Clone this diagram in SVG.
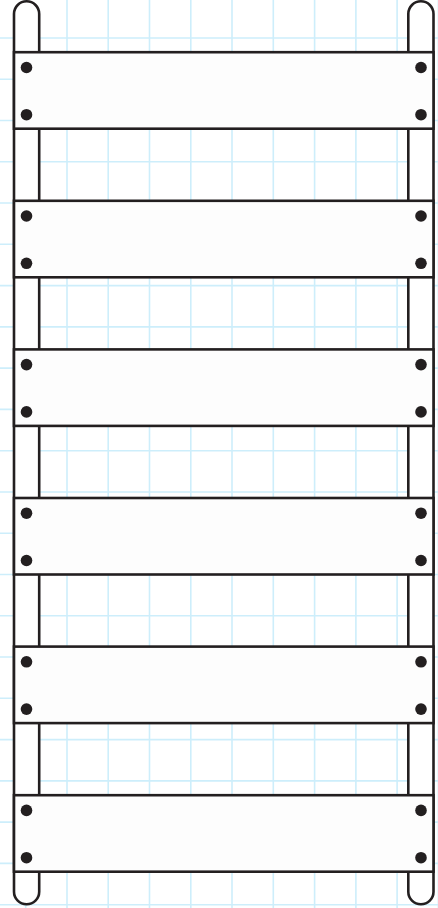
<svg xmlns="http://www.w3.org/2000/svg" width="438" height="908" viewBox="0 0 438 908">
  <style>
    .grid line { stroke: #cdeefb; stroke-width: 1.6; }
    .rail { fill: #ffffff; stroke: #231f20; stroke-width: 2.6; }
    .plank { fill: #fdfdfd; stroke: #231f20; stroke-width: 2.6; }
    .dot { fill: #231f20; }
  </style>
  <rect x="0" y="0" width="438" height="908" fill="#ffffff"/>
  <g class="grid" id="grid">
    <line x1="25.7" y1="0" x2="25.7" y2="908"/>
    <line x1="67" y1="0" x2="67" y2="908"/>
    <line x1="108.2" y1="0" x2="108.2" y2="908"/>
    <line x1="149.5" y1="0" x2="149.5" y2="908"/>
    <line x1="190.8" y1="0" x2="190.8" y2="908"/>
    <line x1="232" y1="0" x2="232" y2="908"/>
    <line x1="273.3" y1="0" x2="273.3" y2="908"/>
    <line x1="314.6" y1="0" x2="314.6" y2="908"/>
    <line x1="355.9" y1="0" x2="355.9" y2="908"/>
    <line x1="397.1" y1="0" x2="397.1" y2="908"/>
    <line x1="438.4" y1="0" x2="438.4" y2="908"/>
    <line x1="0" y1="38" x2="438" y2="38"/>
    <line x1="0" y1="79.2" x2="438" y2="79.2"/>
    <line x1="0" y1="120.5" x2="438" y2="120.5"/>
    <line x1="0" y1="161.8" x2="438" y2="161.8"/>
    <line x1="0" y1="203" x2="438" y2="203"/>
    <line x1="0" y1="244.3" x2="438" y2="244.3"/>
    <line x1="0" y1="285.6" x2="438" y2="285.6"/>
    <line x1="0" y1="326.9" x2="438" y2="326.9"/>
    <line x1="0" y1="368.1" x2="438" y2="368.1"/>
    <line x1="0" y1="409.4" x2="438" y2="409.4"/>
    <line x1="0" y1="450.7" x2="438" y2="450.7"/>
    <line x1="0" y1="492" x2="438" y2="492"/>
    <line x1="0" y1="533.2" x2="438" y2="533.2"/>
    <line x1="0" y1="574.5" x2="438" y2="574.5"/>
    <line x1="0" y1="615.8" x2="438" y2="615.8"/>
    <line x1="0" y1="657" x2="438" y2="657"/>
    <line x1="0" y1="698.3" x2="438" y2="698.3"/>
    <line x1="0" y1="739.6" x2="438" y2="739.6"/>
    <line x1="0" y1="780.9" x2="438" y2="780.9"/>
    <line x1="0" y1="822.1" x2="438" y2="822.1"/>
    <line x1="0" y1="863.4" x2="438" y2="863.4"/>
    <line x1="0" y1="904.7" x2="438" y2="904.7"/>
  </g>
  <g id="rail-left">
    <rect class="rail" x="14" y="1.3" width="25.2" height="903" rx="12.6" ry="12.6"/>
  </g>
  <g id="rail-right">
    <rect class="rail" x="408.3" y="1.3" width="25.2" height="903" rx="12.6" ry="12.6"/>
  </g>
  <g id="plank-1">
    <rect class="plank" x="14" y="52.2" width="419.5" height="76.5"/>
    <circle class="dot" cx="26.5" cy="67.5" r="5.8"/><circle class="dot" cx="26.5" cy="114.7" r="5.8"/>
    <circle class="dot" cx="421" cy="67.5" r="5.8"/><circle class="dot" cx="421" cy="114.7" r="5.8"/>
  </g>
  <g id="plank-2">
    <rect class="plank" x="14" y="200.8" width="419.5" height="76.5"/>
    <circle class="dot" cx="26.5" cy="216" r="5.8"/><circle class="dot" cx="26.5" cy="263.3" r="5.8"/>
    <circle class="dot" cx="421" cy="216" r="5.8"/><circle class="dot" cx="421" cy="263.3" r="5.8"/>
  </g>
  <g id="plank-3">
    <rect class="plank" x="14" y="349.4" width="419.5" height="76.5"/>
    <circle class="dot" cx="26.5" cy="364.6" r="5.8"/><circle class="dot" cx="26.5" cy="411.9" r="5.8"/>
    <circle class="dot" cx="421" cy="364.6" r="5.8"/><circle class="dot" cx="421" cy="411.9" r="5.8"/>
  </g>
  <g id="plank-4">
    <rect class="plank" x="14" y="498" width="419.5" height="76.5"/>
    <circle class="dot" cx="26.5" cy="513.2" r="5.8"/><circle class="dot" cx="26.5" cy="560.5" r="5.8"/>
    <circle class="dot" cx="421" cy="513.2" r="5.8"/><circle class="dot" cx="421" cy="560.5" r="5.8"/>
  </g>
  <g id="plank-5">
    <rect class="plank" x="14" y="646.6" width="419.5" height="76.5"/>
    <circle class="dot" cx="26.5" cy="661.8" r="5.8"/><circle class="dot" cx="26.5" cy="709.1" r="5.8"/>
    <circle class="dot" cx="421" cy="661.8" r="5.8"/><circle class="dot" cx="421" cy="709.1" r="5.8"/>
  </g>
  <g id="plank-6">
    <rect class="plank" x="14" y="795.2" width="419.5" height="76.5"/>
    <circle class="dot" cx="26.5" cy="810.4" r="5.8"/><circle class="dot" cx="26.5" cy="857.7" r="5.8"/>
    <circle class="dot" cx="421" cy="810.4" r="5.8"/><circle class="dot" cx="421" cy="857.7" r="5.8"/>
  </g>
  <g id="connectors"/>
</svg>
